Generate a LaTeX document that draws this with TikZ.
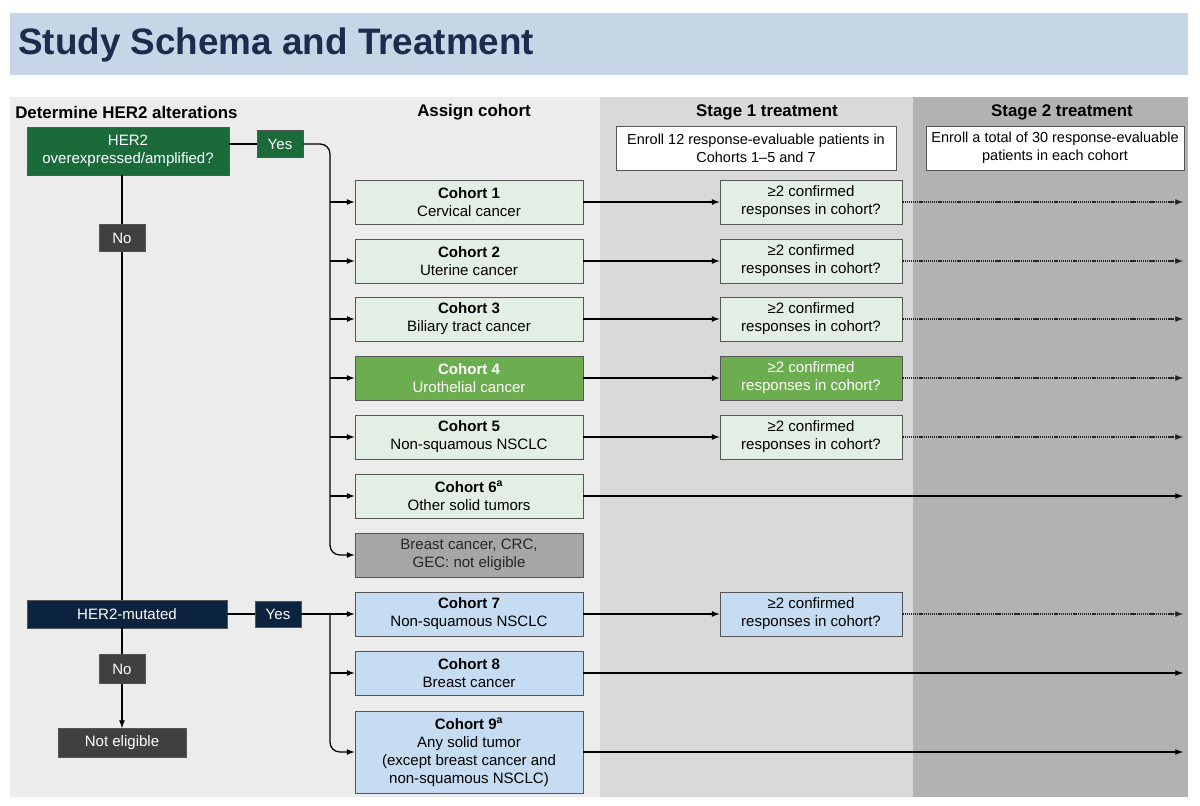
\documentclass[tikz,border=0pt]{standalone}
\usepackage{fontspec}
\setmainfont{Liberation Sans}
\usepackage{tikz}
\definecolor{Banner}{RGB}{198,214,230}
\definecolor{TitleBlue}{RGB}{29,43,77}
\definecolor{LeftBg}{RGB}{236,236,236}
\definecolor{StageOneBg}{RGB}{217,217,217}
\definecolor{StageTwoBg}{RGB}{178,178,178}
\definecolor{DarkGreen}{RGB}{27,106,58}
\definecolor{Navy}{RGB}{12,35,64}
\definecolor{DarkGrey}{RGB}{64,64,64}
\definecolor{PaleGreen}{RGB}{227,239,229}
\definecolor{MidGreen}{RGB}{108,173,80}
\definecolor{MidGrey}{RGB}{166,166,166}
\definecolor{PaleBlue}{RGB}{198,220,242}
\definecolor{Edge}{RGB}{85,85,85}
\tikzstyle{none}=[inner sep=0pt]
\tikzstyle{simple}=[-,draw=black,line width=0.9pt]
\tikzstyle{arrow}=[-latex,draw=black,line width=0.9pt]
\tikzstyle{dots}=[-latex,draw=black!85,line width=0.9pt,dash pattern=on 0.9pt off 0.6pt]
\tikzstyle{header}=[inner sep=0pt,font=\fontsize{12}{14}\bfseries\selectfont]
\tikzstyle{box}=[draw=Edge,line width=0.6pt,inner sep=0pt,align=center]
\tikzstyle{dark}=[box,text=white]
\tikzstyle{cohort}=[box,fill=PaleGreen,minimum width=5.7cm,minimum height=1.1cm]
\tikzstyle{mutant}=[box,fill=PaleBlue,minimum width=5.7cm,minimum height=1.1cm]
\tikzstyle{response}=[box,minimum width=4.55cm,minimum height=1.1cm]
\tikzstyle{enroll}=[box,fill=white,minimum height=1.1cm,font=\fontsize{10.3}{12.6}\selectfont]
\begin{document}
\begin{tikzpicture}[x=0.025cm,y=-0.025cm,font=\fontsize{10.7}{12.8}\selectfont]
  \useasboundingbox (0,0) rectangle (1200,806);
  % backgrounds
  \fill [Banner] (10,13) rectangle (1188,75);
  \fill [LeftBg] (10,97) rectangle (600,797);
  \fill [StageOneBg] (600,97) rectangle (913,797);
  \fill [StageTwoBg] (913,97) rectangle (1188,797);
  \node [style=none,anchor=west,text=TitleBlue,font=\fontsize{26.2}{30}\bfseries\selectfont] (0) at (18,45) {Study Schema and Treatment};
  \node [style=header,anchor=west] (1) at (15,112) {Determine HER2 alterations};
  \node [style=header] (2) at (474,112) {Assign cohort};
  \node [style=header] (3) at (767,112) {Stage 1 treatment};
  \node [style=header] (4) at (1062,112) {Stage 2 treatment};
  \node [style=enroll,minimum width=7cm] (5) at (756,148) {Enroll 12 response-evaluable patients in\\Cohorts 1–5 and 7};
  \node [style=enroll,minimum width=6.45cm] (6) at (1055,148) {Enroll a total of 30 response-evaluable\\patients in each cohort};
  % HER2 decisions
  \node [style=dark,fill=DarkGreen,minimum width=5.05cm,minimum height=1.2cm] (7) at (128,151) {HER2\\overexpressed/amplified?};
  \node [style=dark,fill=DarkGreen,minimum width=1.15cm,minimum height=0.675cm] (8) at (280,144) {Yes};
  \node [style=dark,fill=DarkGrey,minimum width=1.15cm,minimum height=0.675cm] (9) at (122,238) {No};
  \node [style=dark,fill=Navy,minimum width=5cm,minimum height=0.7cm] (10) at (127,614) {HER2-mutated};
  \node [style=dark,fill=Navy,minimum width=1.15cm,minimum height=0.65cm] (11) at (278,614) {Yes};
  \node [style=dark,fill=DarkGrey,minimum width=1.15cm,minimum height=0.725cm] (12) at (122,669) {No};
  \node [style=dark,fill=DarkGrey,minimum width=3.2cm,minimum height=0.725cm] (13) at (122,743) {Not eligible};
  % cohorts
  \node [style=cohort] (14) at (469,202) {\textbf{Cohort 1}\\Cervical cancer};
  \node [style=cohort] (15) at (469,261) {\textbf{Cohort 2}\\Uterine cancer};
  \node [style=cohort] (16) at (469,319) {\textbf{Cohort 3}\\Biliary tract cancer};
  \node [style=cohort,fill=MidGreen,text=white] (17) at (469,378) {\textbf{Cohort 4}\\Urothelial cancer};
  \node [style=cohort] (18) at (469,437) {\textbf{Cohort 5}\\Non-squamous NSCLC};
  \node [style=cohort] (19) at (469,496) {\textbf{Cohort 6\textsuperscript{a}}\\Other solid tumors};
  \node [style=cohort,fill=MidGrey,text=black!85] (20) at (469,555) {Breast cancer, CRC,\\GEC: not eligible};
  \node [style=mutant] (21) at (469,614) {\textbf{Cohort 7}\\Non-squamous NSCLC};
  \node [style=mutant] (22) at (469,673) {\textbf{Cohort 8}\\Breast cancer};
  \node [style=mutant,minimum height=2.05cm] (23) at (469,752) {\textbf{Cohort 9\textsuperscript{a}}\\Any solid tumor\\(except breast cancer and\\non-squamous NSCLC)};
  % stage 1 checks
  \node [style=response,fill=PaleGreen] (24) at (811,202) {≥2 confirmed\\responses in cohort?};
  \node [style=response,fill=PaleGreen] (25) at (811,261) {≥2 confirmed\\responses in cohort?};
  \node [style=response,fill=PaleGreen] (26) at (811,319) {≥2 confirmed\\responses in cohort?};
  \node [style=response,fill=MidGreen,text=white] (27) at (811,378) {≥2 confirmed\\responses in cohort?};
  \node [style=response,fill=PaleGreen] (28) at (811,437) {≥2 confirmed\\responses in cohort?};
  \node [style=response,fill=PaleBlue] (29) at (811,614) {≥2 confirmed\\responses in cohort?};
  % arrow ends
  \node [style=none] (30) at (1183,202) {};
  \node [style=none] (31) at (1183,261) {};
  \node [style=none] (32) at (1183,319) {};
  \node [style=none] (33) at (1183,378) {};
  \node [style=none] (34) at (1183,437) {};
  \node [style=none] (35) at (1183,496) {};
  \node [style=none] (36) at (1183,614) {};
  \node [style=none] (37) at (1183,673) {};
  \node [style=none] (38) at (1183,752) {};
  % trunk points
  \node [style=none] (40) at (330,144) {};
  \node [style=none] (41) at (330,555) {};
  \node [style=none] (42) at (330,202) {};
  \node [style=none] (43) at (330,261) {};
  \node [style=none] (44) at (330,319) {};
  \node [style=none] (45) at (330,378) {};
  \node [style=none] (46) at (330,437) {};
  \node [style=none] (47) at (330,496) {};
  \node [style=none] (48) at (330,614) {};
  \node [style=none] (49) at (330,673) {};
  \node [style=none] (50) at (330,752) {};
  \draw [style=simple] (7.east |- 8.west) to (8.west);
  \draw [style=arrow,rounded corners=7pt] (8.east) -- (40.center) -- (41.center) -- (20.west);
  \draw [style=arrow] (42.center) to (14.west);
  \draw [style=arrow] (43.center) to (15.west);
  \draw [style=arrow] (44.center) to (16.west);
  \draw [style=arrow] (45.center) to (17.west);
  \draw [style=arrow] (46.center) to (18.west);
  \draw [style=arrow] (47.center) to (19.west);
  \draw [style=simple] (9.north) to (9.north |- 7.south);
  \draw [style=simple] (9.south) to (9.south |- 10.north);
  \draw [style=simple] (10.east) to (11.west);
  \draw [style=arrow] (11.east) to (21.west);
  \draw [style=arrow,rounded corners=7pt] (48.center) -- (50.center) -- (23.west);
  \draw [style=arrow] (49.center) to (22.west);
  \draw [style=simple] (12.north) to (12.north |- 10.south);
  \draw [style=arrow] (12.south) to (13.north);
  \draw [style=arrow] (14.east) to (24.west);
  \draw [style=arrow] (15.east) to (25.west);
  \draw [style=arrow] (16.east) to (26.west);
  \draw [style=arrow] (17.east) to (27.west);
  \draw [style=arrow] (18.east) to (28.west);
  \draw [style=arrow] (21.east) to (29.west);
  \draw [style=dots] (24.east) to (30.center);
  \draw [style=dots] (25.east) to (31.center);
  \draw [style=dots] (26.east) to (32.center);
  \draw [style=dots] (27.east) to (33.center);
  \draw [style=dots] (28.east) to (34.center);
  \draw [style=dots] (29.east) to (36.center);
  \draw [style=arrow] (19.east) to (35.center);
  \draw [style=arrow] (22.east) to (37.center);
  \draw [style=arrow] (23.east) to (38.center);
\end{tikzpicture}
\end{document}
